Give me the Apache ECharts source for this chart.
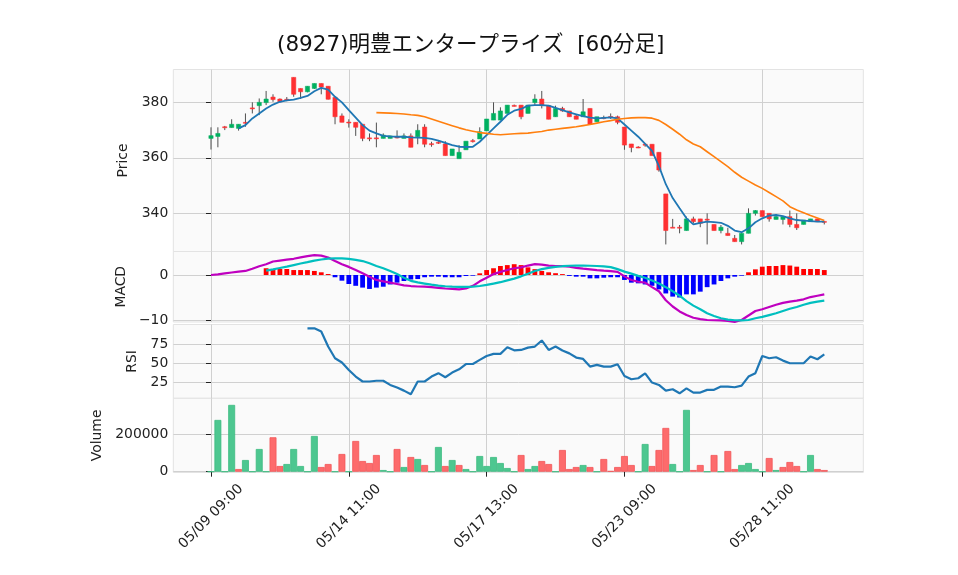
<!DOCTYPE html>
<html>
<head>
<meta charset="utf-8">
<script src="https://cdn.jsdelivr.net/npm/echarts@6/dist/echarts.min.js"></script>
<style>html,body{margin:0;padding:0;background:#fff}#c{width:958px;height:575px}</style>
</head>
<body>
<div id="c"></div>
<script>
const titleText = '(8927)明豊エンタープライズ  [60分足]';
const xTickIndex = [0, 20, 40, 60, 80];
const xTickLabels = ['05/09 09:00', '05/14 11:00', '05/17 13:00', '05/23 09:00', '05/28 11:00'];
const priceTicks = [340, 360, 380];
const macdTicks = [-10, 0];
const rsiTicks = [25, 50, 75];
const volTicks = [0, 200000];

const opens = [367.0,367.7,371.2,370.9,370.6,372.8,378.0,378.8,379.9,381.9,381.2,381.1,389.0,385.0,383.8,385.0,386.8,385.8,381.8,375.1,
372.9,372.8,372.1,367.2,367.2,367.0,367.0,367.5,367.0,367.9,367.6,371.1,365.1,365.6,365.0,360.8,359.7,362.9,366.2,366.8,
369.7,373.6,373.6,376.0,378.9,379.0,376.0,379.9,381.2,378.8,374.8,377.8,376.9,375.1,374.8,377.8,373.0,374.5,374.9,374.8,
371.1,365.0,363.9,364.9,364.9,362.0,347.0,335.0,335.0,333.8,338.0,338.0,337.9,336.0,333.8,332.8,331.0,329.8,332.8,340.0,
341.0,340.0,337.8,337.8,338.8,336.0,336.0,337.0,338.0,337.1];
const highs = [371.0,371.0,371.5,373.9,372.1,376.0,380.0,381.4,384.1,382.9,381.4,381.9,389.0,385.0,385.8,386.8,386.8,385.8,381.8,376.0,
373.9,372.8,372.1,368.8,372.7,368.8,368.0,369.9,368.8,368.8,372.1,372.1,365.8,366.0,366.0,363.2,364.6,366.0,366.8,371.0,
374.0,380.0,378.2,379.0,379.2,379.0,379.0,382.9,384.1,378.8,378.8,378.4,376.9,375.7,381.2,377.8,374.8,375.2,376.0,375.2,
371.1,365.0,364.2,365.2,364.9,362.0,347.0,338.0,335.8,338.8,338.8,338.0,340.0,336.0,335.8,334.8,332.2,332.8,341.8,341.2,
341.0,340.0,339.6,338.8,341.0,340.0,337.6,338.0,338.0,337.1];
const lows = [363.0,363.8,370.0,370.9,369.8,371.2,376.0,375.4,379.0,380.2,380.0,380.4,382.0,381.2,383.6,384.8,382.9,381.0,372.1,372.8,
370.9,367.9,366.0,366.0,363.8,367.0,367.0,367.0,367.0,363.8,364.9,363.8,364.0,365.0,360.8,360.8,359.7,362.9,365.5,366.8,
369.7,373.6,373.6,376.0,378.5,373.9,376.0,379.0,377.8,373.9,374.8,376.6,374.8,373.9,374.8,372.1,373.0,373.9,374.0,372.1,
362.9,362.0,363.5,364.0,360.8,355.0,328.8,334.8,332.8,333.8,336.4,335.0,328.8,333.8,332.8,332.0,329.8,328.8,332.8,339.2,
338.8,337.0,337.8,336.0,335.0,334.0,336.0,337.0,337.0,336.0];
const closes = [368.0,368.8,371.0,372.1,372.1,372.6,377.8,380.0,381.2,381.0,380.2,380.8,382.9,383.8,385.8,386.8,385.5,381.1,374.8,372.8,
372.7,371.0,367.0,367.1,367.1,368.2,367.9,367.3,367.9,363.8,369.9,364.9,365.0,365.5,360.8,363.2,362.0,366.0,366.0,369.4,
374.0,376.0,376.9,379.0,378.7,374.8,379.0,381.2,378.8,373.9,377.8,376.9,374.8,373.9,376.6,372.1,374.8,374.4,374.7,372.8,
364.6,363.7,363.8,364.8,360.8,355.6,333.8,334.9,334.8,338.0,337.0,336.4,337.8,333.8,335.0,332.0,329.8,332.8,340.0,341.0,
338.8,338.0,338.8,338.8,336.0,334.8,337.6,338.0,337.0,337.0];

const ma5Start = 4;
const ma5 = [370.6,371.8,374.2,376.0,377.8,379.2,380.2,380.7,381.0,381.6,382.3,384.0,385.2,384.6,382.0,380.0,377.2,374.5,371.8,369.8,
368.8,367.9,367.7,367.6,367.6,367.4,367.3,367.2,366.8,366.2,365.4,364.6,364.0,363.9,364.0,365.8,368.2,370.6,373.0,375.5,
377.0,377.6,378.8,379.0,379.0,378.8,378.0,377.2,376.4,375.7,375.0,374.5,374.2,374.4,374.6,374.2,372.0,369.8,367.6,365.0,
362.5,357.0,350.5,345.5,341.8,338.2,336.0,336.6,337.0,336.8,336.6,335.5,333.8,333.2,334.6,336.8,338.2,339.2,339.4,339.0,
338.2,337.6,337.4,337.2,337.0,337.0];
const ma25Start = 24;
const ma25 = [376.3,376.2,376.1,376.0,375.8,375.5,375.3,374.8,374.0,373.2,372.4,371.6,370.8,370.1,369.6,369.1,368.8,368.5,368.3,368.5,
368.7,368.8,368.9,369.2,369.5,370.0,370.3,370.6,370.9,371.2,371.6,372.0,372.5,373.0,373.4,373.9,374.2,374.4,374.5,374.5,
374.3,373.5,372.0,370.3,368.5,366.5,365.0,364.0,362.2,360.4,358.6,356.8,354.8,353.0,351.6,350.2,349.0,347.5,346.0,344.5,
342.4,341.2,340.2,339.2,338.3,337.4];

const volumes = [0,276800,0,357200,14300,62500,0,121400,0,184000,30400,41100,121400,30400,0,191100,25000,41100,0,94700,
0,164300,57100,46400,89300,8900,0,121400,25000,78600,67900,35700,0,132200,30400,62500,35700,14300,0,83900,
30400,78600,46400,19600,0,89300,14300,30400,57100,41100,0,116100,14300,25000,35700,25000,0,67900,3600,25000,
83900,35700,0,148200,30400,116100,234000,41100,0,330400,8900,35700,0,89300,0,110700,14300,35700,46400,14300,
0,73200,8900,25000,51800,30400,0,89300,14300,8900];
const volUp = [1,1,1,1,0,1,1,1,1,0,0,1,1,1,1,1,0,0,1,0,
1,0,0,0,0,1,1,0,1,0,1,0,1,1,0,1,0,1,1,1,
1,1,1,1,1,0,1,1,0,0,1,0,0,0,1,0,1,0,0,0,
0,0,1,1,0,0,0,1,1,1,0,0,1,0,1,0,0,1,1,1,
1,0,1,0,0,0,1,1,0,0];

const macd = [0,0.15,0.35,0.55,0.75,0.9,1.4,1.95,2.4,3.0,3.2,3.4,3.6,3.9,4.2,4.4,4.3,3.9,3.1,2.4,
1.8,1.1,0.37,-0.4,-1.1,-1.4,-1.7,-2.0,-2.3,-2.45,-2.55,-2.6,-2.7,-2.85,-3.0,-3.1,-3.2,-3.0,-2.4,-1.4,
-0.6,0.2,0.7,1.1,1.5,1.7,2.1,2.4,2.3,2.1,2.0,1.95,1.85,1.6,1.4,1.25,1.1,0.96,0.85,0.7,
-0.3,-1.1,-1.5,-1.7,-2.7,-3.6,-5.6,-7.0,-8.1,-8.9,-9.5,-9.8,-10.0,-10.05,-10.1,-10.2,-10.4,-10.0,-9.0,-8.0,
-7.6,-7.1,-6.6,-6.2,-5.9,-5.7,-5.4,-4.9,-4.6,-4.3];
const sigStart = 8;
const signal = [0.96,1.25,1.55,1.85,2.2,2.55,2.85,3.2,3.45,3.65,3.7,3.7,3.6,3.35,3.1,2.6,2.0,1.5,0.9,0.2,
-0.6,-1.3,-1.65,-1.9,-2.15,-2.35,-2.5,-2.6,-2.65,-2.65,-2.6,-2.45,-2.2,-1.9,-1.6,-1.2,-0.8,-0.3,0.3,0.9,
1.3,1.6,1.8,1.95,2.05,2.1,2.1,2.05,2.0,1.9,1.75,1.3,0.75,0.3,-0.2,-0.6,-1.2,-1.9,-2.7,-3.6,
-4.6,-5.8,-6.8,-7.6,-8.5,-9.1,-9.6,-9.9,-10.05,-10.1,-10.0,-9.6,-9.3,-8.9,-8.5,-8.0,-7.5,-7.1,-6.6,-6.2,
-5.9,-5.7];
const histStart = 8;
const hist = [1.5,1.26,1.33,1.33,1.1,1.1,1.1,0.9,0.6,0.22,-0.5,-1.26,-2.0,-2.4,-2.8,-3.1,-2.8,-2.6,-2.1,-1.7,
-1.33,-1.0,-0.9,-0.5,-0.37,-0.37,-0.5,-0.5,-0.5,-0.22,-0.15,0.37,1.1,1.5,2.0,2.2,2.4,2.2,1.7,1.3,
0.9,0.6,0.4,0.2,-0.2,-0.37,-0.37,-0.74,-0.74,-0.6,-0.5,-0.5,-1.1,-1.7,-1.85,-2.1,-2.4,-3.2,-4.1,-4.8,
-5.0,-4.3,-4.3,-3.7,-2.7,-2.1,-1.33,-0.74,-0.37,-0.15,0.6,1.26,1.85,2.0,2.0,2.2,2.1,1.85,1.33,1.33,
1.33,1.1];
const rsiStart = 14;
const rsi = [96,96,91.7,72,56.6,51,41.2,32.5,26,26,27,27,21.5,18,14,9.2,26,26,32.5,37,
31.6,37.7,42,49,49,54.4,59.6,62.3,62.3,71,67,67.5,70.6,72,80,67.5,72,66.7,63,57.5,
55.7,45.6,47.8,45.6,45.6,48.7,33.3,29,30.3,36.8,24.6,21.5,14,15.8,10.5,17,11.4,11.4,15,15,
19.3,19.3,18.4,20.6,32.5,37,59.6,56.6,57.9,53.5,50,50,50,58.8,55.3,61.8];

const UP = '#00b060', DOWN = '#fe3032';
const VUP = '#4dc790', VDOWN = '#fd6b6c';
const FONT = 'DejaVu Sans';
const XMIN = -5.47, XMAX = 94.66;

const panels = [
  {top: 69.5, height: 182},
  {top: 251.5, height: 70.5},
  {top: 324.5, height: 73.8},
  {top: 398.3, height: 74.2}
];

const offsetSeries = (arr, start) => arr.map((v, k) => [start + k, v]);

const grids = panels.map(p => ({
  left: 173.3, right: 958 - 863.3, top: p.top, height: p.height,
  show: true, backgroundColor: '#fafafa', borderColor: '#e3e3e3', borderWidth: 1
}));

const xAxes = panels.map((p, k) => ({
  type: 'value', gridIndex: k, min: XMIN, max: XMAX,
  axisLine: {show: false},
  axisTick: {show: k === 3, customValues: xTickIndex, length: 5, inside: false, lineStyle: {color: '#222', width: 1}},
  axisLabel: {
    show: k === 3, customValues: xTickIndex, rotate: 45, align: 'center', verticalAlign: 'middle', margin: 44,
    fontFamily: FONT, fontSize: 13.9, color: '#222',
    formatter: v => xTickLabels[xTickIndex.indexOf(Math.round(v))] || ''
  },
  splitLine: {show: true, lineStyle: {color: '#d0d0d0', width: 1}}
}));

function yAxisDef(k, min, max, ticks, name, gap, fmt) {
  return {
    type: 'value', gridIndex: k, min: min, max: max,
    name: name, nameLocation: 'middle', nameGap: gap,
    nameTextStyle: {fontFamily: FONT, fontSize: 13.9, color: '#222'},
    axisLine: {show: false},
    axisTick: {show: true, customValues: ticks, length: 5, lineStyle: {color: '#222', width: 1}},
    axisLabel: {customValues: ticks, fontFamily: FONT, fontSize: 13.9, color: '#222', margin: 5, formatter: fmt || (v => String(v))},
    splitLine: {show: true, lineStyle: {color: '#d0d0d0', width: 1}}
  };
}

const yAxes = [
  yAxisDef(0, 326.25, 391.83, priceTicks, 'Price', 40),
  yAxisDef(1, -10.44, 5.22, macdTicks, 'MACD', 40, v => (v < 0 ? '\u2212' + Math.abs(v) : String(v))),
  yAxisDef(2, 3.9, 101, rsiTicks, 'RSI', 32),
  yAxisDef(3, -4300, 392500, volTicks, 'Volume', 67)
];

function renderCandle(params, api) {
  const i = api.value(0), o = api.value(1), c = api.value(2), l = api.value(3), h = api.value(4);
  const pO = api.coord([i, o]), pC = api.coord([i, c]), pL = api.coord([i, l]), pH = api.coord([i, h]);
  const w = api.size([1, 0])[0] * 0.62;
  const color = c >= o ? UP : DOWN;
  const top = Math.min(pO[1], pC[1]);
  let hh = Math.abs(pO[1] - pC[1]);
  if (hh < 1) hh = 1;
  return {
    type: 'group',
    children: [
      {type: 'line', shape: {x1: pH[0], y1: pH[1], x2: pL[0], y2: pL[1]}, style: {stroke: '#505050', lineWidth: 1}},
      {type: 'rect', shape: {x: pO[0] - w / 2, y: top, width: w, height: hh}, style: {fill: color, stroke: color, lineWidth: 0.5}}
    ]
  };
}

const candleData = opens.map((o, i) => [i, o, closes[i], lows[i], highs[i]]);
const volData = volumes.map((v, i) => ({
  value: [i, v],
  itemStyle: {color: volUp[i] ? VUP : VDOWN, borderColor: volUp[i] ? '#3cbb80' : '#f25658', borderWidth: 0.8}
}));
const histData = hist.map((v, k) => ({
  value: [histStart + k, v],
  itemStyle: {color: v >= 0 ? '#ff0000' : '#0000ff'}
}));

const option = {
  animation: false,
  backgroundColor: '#ffffff',
  title: {
    text: titleText, left: 272, top: 30,
    textStyle: {fontFamily: "'DejaVu Sans', 'Noto Sans CJK JP'", fontSize: 21.5, fontWeight: 'normal', color: '#111'}
  },
  grid: grids,
  xAxis: xAxes,
  yAxis: yAxes,
  series: [
    {type: 'custom', xAxisIndex: 0, yAxisIndex: 0, renderItem: renderCandle, data: candleData,
     encode: {x: 0, y: [1, 2, 3, 4]}, z: 3},
    {type: 'line', xAxisIndex: 0, yAxisIndex: 0, data: offsetSeries(ma5, ma5Start), showSymbol: false, smooth: false,
     lineStyle: {color: '#1f77b4', width: 1.8}, z: 4},
    {type: 'line', xAxisIndex: 0, yAxisIndex: 0, data: offsetSeries(ma25, ma25Start), showSymbol: false,
     lineStyle: {color: '#ff7f0e', width: 1.6}, z: 4},
    {type: 'bar', xAxisIndex: 1, yAxisIndex: 1, data: histData, barWidth: 4.8, z: 2},
    {type: 'line', xAxisIndex: 1, yAxisIndex: 1, data: offsetSeries(macd, 0), showSymbol: false,
     lineStyle: {color: '#bf00bf', width: 2.2}, z: 4},
    {type: 'line', xAxisIndex: 1, yAxisIndex: 1, data: offsetSeries(signal, sigStart), showSymbol: false,
     lineStyle: {color: '#00bfbf', width: 2.2}, z: 4},
    {type: 'line', xAxisIndex: 2, yAxisIndex: 2, data: offsetSeries(rsi, rsiStart), showSymbol: false,
     lineStyle: {color: '#1f77b4', width: 2.2}, z: 4},
    {type: 'bar', xAxisIndex: 3, yAxisIndex: 3, data: volData, barWidth: 6.9, z: 2}
  ]
};

const chart = echarts.init(document.getElementById('c'), null, {renderer: 'canvas'});
chart.setOption(option);
</script>
</body>
</html>
